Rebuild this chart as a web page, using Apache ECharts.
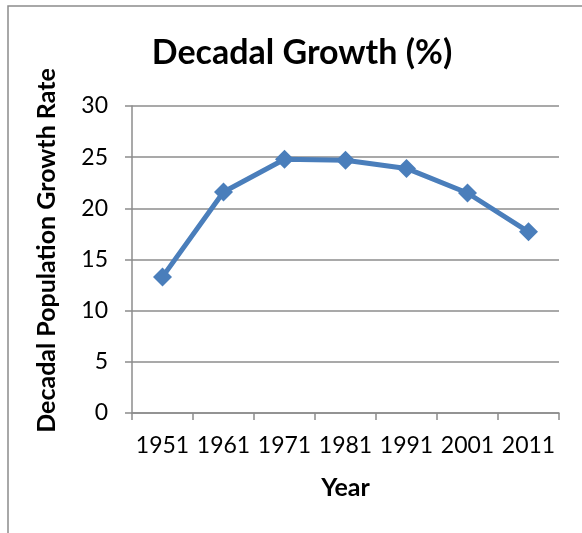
<!DOCTYPE html>
<html>
<head>
<meta charset="utf-8">
<script src="https://cdn.jsdelivr.net/npm/echarts@6/dist/echarts.min.js"></script>
<style>
  html, body { margin: 0; padding: 0; background: #fff; }
  #chart { width: 582px; height: 533px; }
</style>
</head>
<body>
<div id="chart"></div>
<script>
// data
var years = ['1951', '1961', '1971', '1981', '1991', '2001', '2011'];
var growthRate = [13.3, 21.6, 24.8, 24.7, 23.9, 21.5, 17.7];
var yTicks = { min: 0, max: 30, interval: 5 };

var fontFamily = 'Lato, "Open Sans", "Liberation Sans", sans-serif';
var chart = echarts.init(document.getElementById('chart'), null, { renderer: 'canvas' });

var option = {
  backgroundColor: '#fff',
  animation: false,
  graphic: [
    {
      // outer chart frame, cut by the window on the right and bottom
      type: 'rect',
      shape: { x: 8, y: 6, width: 800, height: 800 },
      style: { fill: 'none', stroke: '#8c8c8c', lineWidth: 1.5 },
      silent: true
    }
  ],
  title: {
    text: 'Decadal Growth (%)',
    left: 297,
    top: 31,
    textAlign: 'center',
    textStyle: { fontFamily: fontFamily, fontSize: 34, fontWeight: 'bold', color: '#000' }
  },
  grid: { left: 132, right: 23, top: 106, bottom: 120 },
  xAxis: {
    type: 'category',
    data: years,
    boundaryGap: true,
    name: 'Year',
    nameLocation: 'middle',
    nameGap: 62,
    nameTextStyle: { fontFamily: fontFamily, fontSize: 25, fontWeight: 'bold', color: '#000' },
    axisLine: { lineStyle: { color: '#8c8c8c', width: 1.5 } },
    axisTick: { show: true, interval: 0, length: 7, alignWithLabel: false, lineStyle: { color: '#8c8c8c', width: 1.5 } },
    axisLabel: { interval: 0, hideOverlap: false, margin: 21, fontFamily: fontFamily, fontSize: 23, color: '#000' },
    splitLine: { show: false }
  },
  yAxis: {
    type: 'value',
    min: yTicks.min,
    max: yTicks.max,
    interval: yTicks.interval,
    name: 'Decadal Population Growth Rate',
    nameLocation: 'middle',
    nameGap: 73,
    nameTextStyle: { fontFamily: fontFamily, fontSize: 25, fontWeight: 'bold', color: '#000', padding: [0, 0, 0, 18] },
    axisLine: { show: true, lineStyle: { color: '#8c8c8c', width: 1.5 } },
    axisTick: { show: true, length: 7, lineStyle: { color: '#8c8c8c', width: 1.5 } },
    axisLabel: { margin: 24, fontFamily: fontFamily, fontSize: 23, color: '#000' },
    splitLine: { show: true, lineStyle: { color: '#8c8c8c', width: 1.5 } }
  },
  series: [
    {
      name: 'Decadal Growth',
      type: 'line',
      data: growthRate,
      symbol: 'diamond',
      symbolSize: 19,
      lineStyle: { color: '#4a7ebb', width: 5 },
      itemStyle: { color: '#4a7ebb' }
    }
  ]
};

chart.setOption(option);
</script>
</body>
</html>
